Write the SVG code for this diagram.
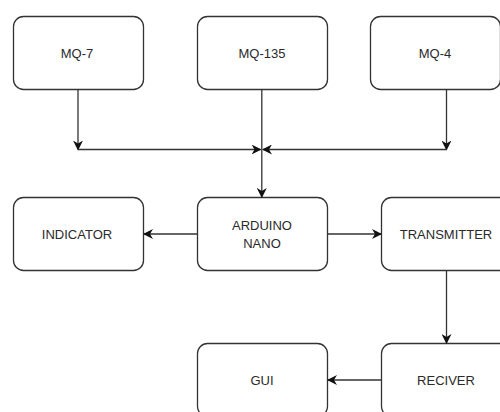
<svg xmlns="http://www.w3.org/2000/svg" width="500" height="412" viewBox="0 0 500 412">
<defs>
<style>
.box{fill:#ffffff;stroke:#333333;stroke-width:1.3}
.lbl{font-family:"Liberation Sans",Arial,sans-serif;font-size:13px;fill:#2a2a2a;text-anchor:middle;dominant-baseline:central}
.edge{fill:none;stroke:#333333;stroke-width:1.3}
</style>
<marker id="arr" viewBox="0 0 10 10" refX="9" refY="5" markerWidth="10" markerHeight="10" markerUnits="userSpaceOnUse" orient="auto">
<path d="M0,0 L10,5 L0,10 L3,5 Z" fill="#111111"/>
</marker>
</defs>
<rect width="500" height="412" fill="#ffffff"/>
<g id="mq7"><rect class="box" x="13.5" y="16.5" width="130" height="73" rx="10"/><text class="lbl" x="77" y="53">MQ-7</text></g>
<g id="mq135"><rect class="box" x="197.5" y="16.5" width="130" height="73" rx="10"/><text class="lbl" x="262" y="53">MQ-135</text></g>
<g id="mq4"><rect class="box" x="370.5" y="16.5" width="130" height="73" rx="10"/><text class="lbl" x="435" y="53">MQ-4</text></g>
<g id="indicator"><rect class="box" x="13.5" y="197.5" width="130" height="73" rx="10"/><text class="lbl" x="77" y="234">INDICATOR</text></g>
<g id="arduino"><rect class="box" x="197.5" y="197.5" width="130" height="73" rx="10"/><text class="lbl" x="262" y="225">ARDUINO</text><text class="lbl" x="262" y="243">NANO</text></g>
<g id="transmitter"><rect class="box" x="381.5" y="197.5" width="130" height="73" rx="10"/><text class="lbl" x="446" y="234">TRANSMITTER</text></g>
<g id="gui"><rect class="box" x="197.5" y="343.5" width="130" height="73" rx="10"/><text class="lbl" x="262" y="380">GUI</text></g>
<g id="reciver"><rect class="box" x="381.5" y="343.5" width="130" height="73" rx="10"/><text class="lbl" x="446" y="380">RECIVER</text></g>
<g id="connectors">
<path class="edge" d="M78,90 V149.5" marker-end="url(#arr)"/>
<path class="edge" d="M78,149.5 H260.5" marker-end="url(#arr)"/>
<path class="edge" d="M446.5,90 V149.5" marker-end="url(#arr)"/>
<path class="edge" d="M446.5,149.5 H263" marker-end="url(#arr)"/>
<path class="edge" d="M261.8,90 V197" marker-end="url(#arr)"/>
<path class="edge" d="M197,234 H144" marker-end="url(#arr)"/>
<path class="edge" d="M328,234 H381" marker-end="url(#arr)"/>
<path class="edge" d="M446.5,271 V343" marker-end="url(#arr)"/>
<path class="edge" d="M381,380 H328" marker-end="url(#arr)"/>
</g>
</svg>
